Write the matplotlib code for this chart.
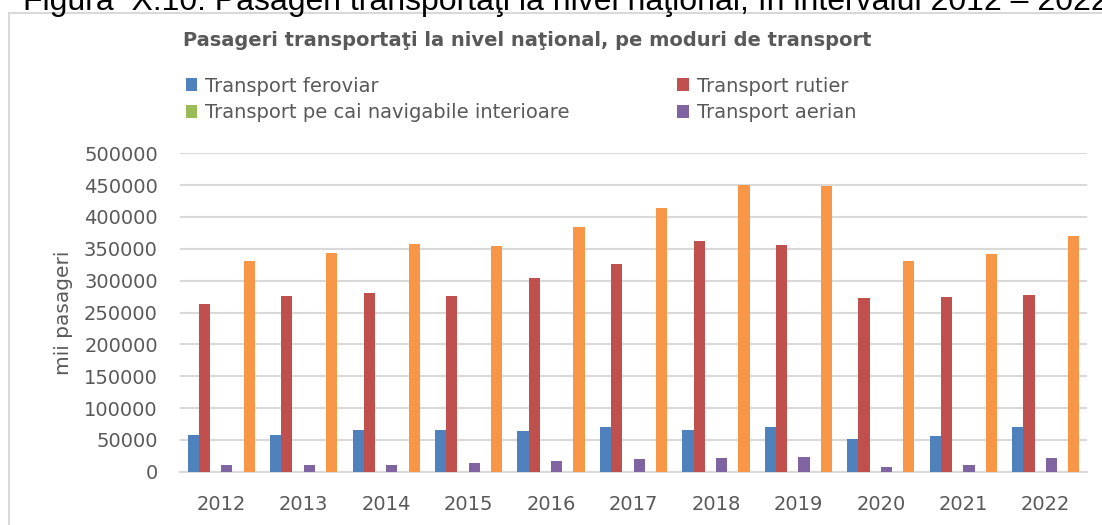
import numpy as np
import matplotlib
matplotlib.use('Agg')
import matplotlib.pyplot as plt
from matplotlib.patches import Rectangle

years = ['2012', '2013', '2014', '2015', '2016', '2017', '2018', '2019', '2020', '2021', '2022']

# mii pasageri
feroviar = [57600, 57600, 65500, 65500, 63400, 69700, 65500, 69700, 51400, 55600, 69700]
rutier = [262900, 275400, 281100, 275400, 303700, 325700, 361800, 355500, 272800, 274800, 277000]
navigabile = [0, 0, 0, 0, 0, 0, 0, 0, 0, 0, 0]
aerian = [11000, 11000, 11000, 13200, 17300, 19500, 21500, 23600, 7400, 11000, 21500]
maritim = [0, 0, 0, 0, 0, 0, 0, 0, 0, 0, 0]
total = [331300, 343000, 357100, 354900, 383800, 413600, 450200, 448200, 331300, 341400, 369700]

series = [
    ('Transport feroviar', feroviar, '#4F81BD'),
    ('Transport rutier', rutier, '#C0504D'),
    ('Transport pe cai navigabile interioare', navigabile, '#9BBB59'),
    ('Transport aerian', aerian, '#8064A2'),
    (None, maritim, '#4BACC6'),
    (None, total, '#F79646'),
]

txt = '#595959'
grid = '#D9D9D9'

fig = plt.figure(figsize=(11.02, 5.25), dpi=100)

# outer chart frame (cut off on the right and bottom)
fig.add_artist(Rectangle((9 / 1102, -0.1), 1.2, 1 - 13 / 525 + 0.1, transform=fig.transFigure,
                         fill=False, edgecolor=grid, lw=1.5))

fig.text(23 / 1102, 1 - 10 / 525, 'Figura  X.10: Pasageri transportaţi la nivel naţional, în intervalul 2012 – 2022',
         fontsize=23, family='Liberation Sans', color='black', va='baseline', ha='left')

fig.text(183 / 1102, 1 - 40 / 525, 'Pasageri transportaţi la nivel naţional, pe moduri de transport',
         fontsize=14, fontweight='bold', color=txt, va='center', ha='left')

ax = fig.add_axes([180 / 1102, 1 - 471.7 / 525, 907 / 1102, (471.7 - 153.3) / 525])

x = np.arange(len(years))
w = 0.1358
handles = {}
for k, (name, vals, col) in enumerate(series):
    b = ax.bar(x + (k - 2.5) * w, vals, width=w, color=col, zorder=3)
    if name:
        handles[name] = b

ax.set_xlim(-0.5, len(years) - 0.5)
ax.set_ylim(0, 500000)
ax.set_yticks(np.arange(0, 500001, 50000))
ax.set_yticklabels([str(v) for v in range(0, 500001, 50000)])
ax.set_xticks(x)
ax.set_xticklabels(years)
ax.grid(axis='y', color=grid, lw=1.5, zorder=0)
for s in ['top', 'right', 'left']:
    ax.spines[s].set_visible(False)
ax.spines['bottom'].set_color(grid)
ax.spines['bottom'].set_linewidth(1.5)
ax.tick_params(axis='both', length=0, labelsize=14, labelcolor=txt)
ax.tick_params(axis='y', pad=16)
ax.tick_params(axis='x', pad=17)
ax.set_ylabel('mii pasageri', fontsize=14.5, color=txt, labelpad=8)

order = ['Transport feroviar', 'Transport pe cai navigabile interioare',
         'Transport rutier', 'Transport aerian']
fig.legend([handles[n] for n in order], order, ncol=2, frameon=False,
           loc='upper left', bbox_to_anchor=(168 / 1102, 1 - 59 / 525),
           fontsize=14, labelcolor=txt, handlelength=0.6, handleheight=0.6,
           handletextpad=0.4, columnspacing=5.55, labelspacing=0.4)

fig.savefig('out.png', dpi=100)
